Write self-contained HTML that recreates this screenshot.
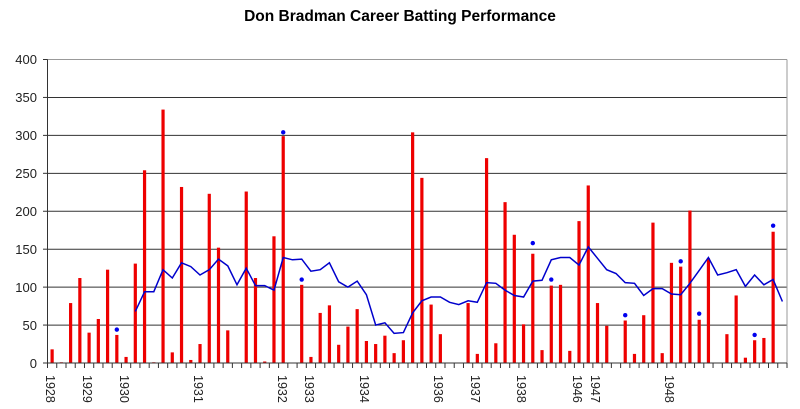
<!DOCTYPE html>
<html><head><meta charset="utf-8"><style>
html,body{margin:0;padding:0;background:#fff;}
svg{display:block;font-family:"Liberation Sans",Arial,sans-serif;}
</style></head><body>
<svg id="s" width="800" height="409" viewBox="0 0 800 409" xmlns="http://www.w3.org/2000/svg">
<rect width="800" height="409" fill="#fff"/>
<text x="400" y="21" text-anchor="middle" font-size="15.5" font-weight="bold" fill="#000">Don Bradman Career Batting Performance</text>
<g id="grid"></g>
<g font-size="13" fill="#222" text-anchor="end">
<text x="37" y="64">400</text><text x="37" y="102">350</text><text x="37" y="140">300</text>
<text x="37" y="178">250</text><text x="37" y="216">200</text><text x="37" y="254">150</text>
<text x="37" y="292">100</text><text x="37" y="330">50</text><text x="37" y="368">0</text>
</g>
<g id="bars"></g>
<g font-size="12.5" fill="#222" id="yrs">
<text transform="translate(46,375) rotate(90)">1928</text>
<text transform="translate(83,375) rotate(90)">1929</text>
<text transform="translate(120,375) rotate(90)">1930</text>
<text transform="translate(194,375) rotate(90)">1931</text>
<text transform="translate(278,375) rotate(90)">1932</text>
<text transform="translate(305,375) rotate(90)">1933</text>
<text transform="translate(360,375) rotate(90)">1934</text>
<text transform="translate(434,375) rotate(90)">1936</text>
<text transform="translate(471,375) rotate(90)">1937</text>
<text transform="translate(517,375) rotate(90)">1938</text>
<text transform="translate(573,375) rotate(90)">1946</text>
<text transform="translate(591,375) rotate(90)">1947</text>
<text transform="translate(665,375) rotate(90)">1948</text>
</g>
</svg>
<script>
var NS="http://www.w3.org/2000/svg",s=document.getElementById('s');
function el(n,a,p){var e=document.createElementNS(NS,n);for(var k in a)e.setAttribute(k,a[k]);(p||s).appendChild(e);return e;}
var L=47.5,R=787,T=59.5,B=363,W=(R-L)/80,k=(B-T)/400;
function Y(v){return B-v*k;}
var g=document.getElementById('grid');
for(var v=50;v<=350;v+=50)el('line',{x1:L,x2:R,y1:Y(v),y2:Y(v),stroke:'#333','stroke-width':1},g);
el('line',{x1:L,x2:R,y1:T,y2:T,stroke:'#999','stroke-width':1},g);
el('line',{x1:R,x2:R,y1:T,y2:B,stroke:'#999','stroke-width':1},g);
for(var v=0;v<=400;v+=50)el('line',{x1:43,x2:L,y1:Y(v),y2:Y(v),stroke:'#333'},g);
var bars=[18,1,79,112,40,58,123,37,8,131,254,1,334,14,232,4,25,223,152,43,0,226,112,2,167,299,0,103,8,66,76,24,48,71,29,25,36,13,30,304,244,77,38,0,0,79,12,270,26,212,169,51,144,17,102,103,16,187,234,79,49,0,56,12,63,185,13,132,127,201,57,138,0,38,89,7,30,33,173,0];
var dots={7:44,25:304,27:110,52:158,54:110,62:63,68:134,70:65,76:37,78:181};
var avg={9:68,10:94,11:94,12:123,13:112,14:132,15:127,16:116,17:123,18:137,19:128,20:103,21:125,22:102,23:102,24:96,25:139,26:136,27:137,28:121,29:123,30:132,31:107,32:100,33:108,34:90,35:50,36:53,37:39,38:40,39:66,40:82,41:87,42:87,43:80,44:77,45:82,46:80,47:106,48:105,49:96,50:89,51:87,52:108,53:109,54:136,55:139,56:139,57:129,58:153,59:138,60:123,61:118,62:106,63:105,64:89,65:98,66:98,67:91,68:90,69:105,70:122,71:139,72:116,73:119,74:123,75:101,76:116,77:103,78:110,79:81};
var b=document.getElementById('bars');
for(var i=0;i<80;i++){var cx=L+W*(i+0.5);
 if(bars[i]>0)el('rect',{x:cx-1.6,y:Y(bars[i]),width:3.2,height:bars[i]*k,fill:'#ee0000'},b);
}
el('line',{x1:L,x2:R,y1:B,y2:B,stroke:'#333'},b);
el('line',{x1:L,x2:L,y1:T,y2:B,stroke:'#333'},b);
for(var i=0;i<=80;i++){var x=L+W*i;el('line',{x1:x,x2:x,y1:B,y2:B+5,stroke:'#333'},b);}
var pts=[];for(var i=9;i<80;i++)pts.push((L+W*(i+0.5)).toFixed(1)+','+Y(avg[i]).toFixed(1));
el('polyline',{points:pts.join(' '),fill:'none',stroke:'#0000cc','stroke-width':1.5},b);
for(var i in dots)el('circle',{cx:L+W*(+i+0.5),cy:Y(dots[i]),r:2.2,fill:'#0000ee'},b);
</script>
</body></html>
